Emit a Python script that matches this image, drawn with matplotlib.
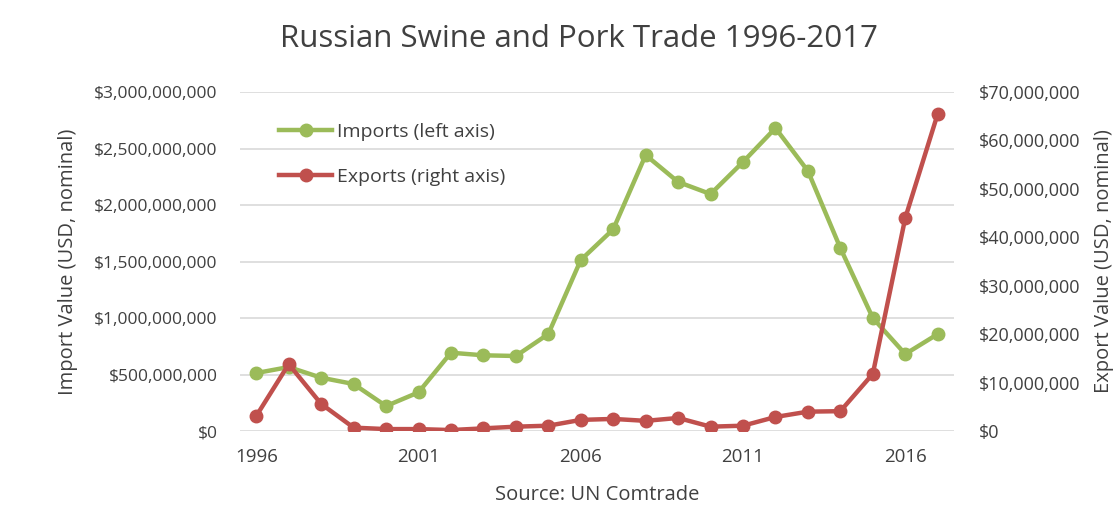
import matplotlib

matplotlib.use("Agg")
import matplotlib.pyplot as plt
import matplotlib.ticker as mticker

years = list(range(1996, 2018))
imports = [513e6, 566e6, 472e6, 416e6, 221e6, 342e6, 693e6, 670e6, 664e6, 858e6,
           1513e6, 1785e6, 2442e6, 2204e6, 2097e6, 2381e6, 2681e6, 2301e6,
           1619e6, 1000e6, 681e6, 858e6]
exports = [3.1e6, 13.8e6, 5.6e6, 0.7e6, 0.4e6, 0.4e6, 0.2e6, 0.55e6, 0.9e6, 1.1e6,
           2.3e6, 2.5e6, 2.1e6, 2.7e6, 0.9e6, 1.1e6, 2.9e6, 4.0e6, 4.1e6,
           11.8e6, 44.0e6, 65.5e6]
x_ticks = [1996, 2001, 2006, 2011, 2016]

GREEN = "#9bbb59"
RED = "#c0504d"
TEXT = "#404040"

plt.rcParams["font.family"] = ["Open Sans", "DejaVu Sans"]

fig = plt.figure(figsize=(11.19, 5.21), dpi=100)
ax = fig.add_axes([0.2145, 0.1727, 0.638, 0.6507])
ax2 = ax.twinx()

ax.plot(years, imports, color=GREEN, linewidth=3.2, marker="o", markersize=9,
        label="Imports (left axis)", zorder=3)
ax2.plot(years, exports, color=RED, linewidth=3.2, marker="o", markersize=9,
         label="Exports (right axis)", zorder=3)

ax.set_xlim(1995.5, 2017.5)
ax.set_ylim(0, 3e9)
ax2.set_ylim(0, 70e6)
ax.set_yticks([i * 5e8 for i in range(7)])
ax2.set_yticks([i * 1e7 for i in range(8)])
ax.set_xticks(x_ticks)
ax.yaxis.set_major_formatter(mticker.FuncFormatter(lambda v, _: f"${v:,.0f}"))
ax2.yaxis.set_major_formatter(mticker.FuncFormatter(lambda v, _: f"${v:,.0f}"))

ax.grid(axis="y", color="#d9d9d9", linewidth=1.2)
ax.set_axisbelow(True)
for a in (ax, ax2):
    for s in a.spines.values():
        s.set_visible(False)
    a.tick_params(length=0, labelsize=12.5, colors=TEXT, pad=16)
ax.tick_params(axis="x", labelsize=13.5, pad=12)
ax2.tick_params(axis="y", labelsize=13, pad=18)

ax.set_ylabel("Import Value (USD, nominal)", fontsize=14.5, color=TEXT, labelpad=12)
ax2.set_ylabel("Export Value (USD, nominal)", fontsize=14.5, color=TEXT, labelpad=10)
ax.set_xlabel("Source: UN Comtrade", fontsize=14.5, color=TEXT, labelpad=14)
fig.text(0.517, 0.925, "Russian Swine and Pork Trade 1996-2017", fontsize=22.5,
         color=TEXT, ha="center", va="center")

h1, l1 = ax.get_legend_handles_labels()
h2, l2 = ax2.get_legend_handles_labels()
ax2.legend(h1 + h2, l1 + l2, loc="upper left", bbox_to_anchor=(0.055, 0.91),
           frameon=False, fontsize=14, labelcolor=TEXT, handlelength=2.7,
           handletextpad=0.25, labelspacing=1.4, borderpad=0, borderaxespad=0)

fig.savefig("out.png", dpi=100)
